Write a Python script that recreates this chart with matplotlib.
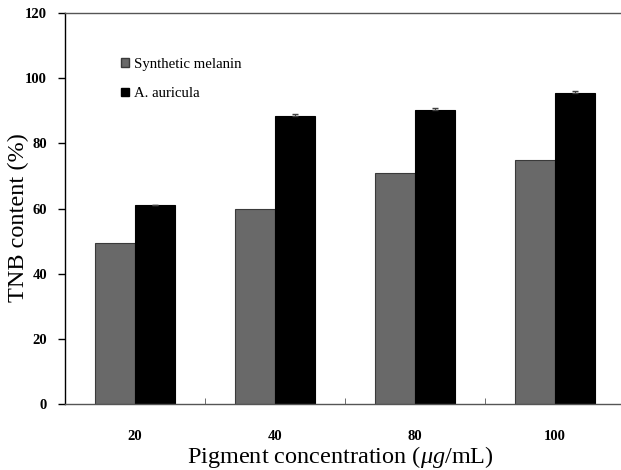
import matplotlib
matplotlib.use("Agg")
import matplotlib.pyplot as plt
import numpy as np
from matplotlib.patches import Patch

categories = ["20", "40", "80", "100"]
synthetic = [49.3, 59.8, 71.0, 74.8]
auricula = [61.1, 88.5, 90.3, 95.3]
auricula_err = [0.0, 0.4, 0.5, 0.9]
yticks = [0, 20, 40, 60, 80, 100, 120]

plt.rcParams['font.family'] = ['Liberation Serif', 'DejaVu Serif']
plt.rcParams['mathtext.fontset'] = 'custom'
plt.rcParams['mathtext.it'] = 'Liberation Serif:italic'
plt.rcParams['mathtext.rm'] = 'Liberation Serif'

fig = plt.figure(figsize=(6.21, 4.70), dpi=100)
ax = fig.add_axes([65/621, 1-404/470, 1-65/621, (404-13)/470])

x = np.arange(len(categories))
w = 0.285
ax.bar(x - w/2, synthetic, w, color='#696969', edgecolor='#3a3a3a', linewidth=0.8, zorder=2)
ax.bar(x + w/2, auricula, w, color='black', edgecolor='black', linewidth=0.8, zorder=2)
ax.errorbar(x + w/2, auricula, yerr=[[0]*len(auricula), auricula_err], fmt='none',
            ecolor='#404040', capsize=2.5, elinewidth=0.8, zorder=3)

ax.set_xlim(-0.5, 3.47)
ax.set_ylim(0, 120)
ax.set_yticks(yticks)
ax.set_yticklabels([str(t) for t in yticks], fontweight='bold', fontsize=10.5)
ax.set_xticks(x)
ax.set_xticklabels(categories, fontweight='bold', fontsize=10.5)
ax.tick_params(axis='x', length=0, pad=19)
ax.set_xticks([0.5, 1.5, 2.5], minor=True)
ax.tick_params(axis='x', which='minor', direction='in', length=4, color='#555555')
ax.tick_params(axis='y', direction='out', length=5, width=1, pad=8)

ax.spines['right'].set_visible(False)
ax.spines['top'].set_color('#555555')
ax.spines['bottom'].set_color('#555555')
ax.spines['left'].set_color('black')
for s in ax.spines.values():
    s.set_linewidth(1.0)

fig.text(18/621, 1-218/470, 'TNB content (%)', fontsize=17.5, rotation=90,
         ha='center', va='center')
fig.text(340/621, 1-457/470, r'Pigment concentration ($\mathit{\mu g}$/mL)', fontsize=17.5,
         ha='center', va='center')

handles = [Patch(facecolor='#696969', edgecolor='#3a3a3a', label='Synthetic melanin'),
           Patch(facecolor='black', edgecolor='black', label='A. auricula')]
ax.legend(handles=handles, loc='upper left', bbox_to_anchor=(0.0905, 0.90), frameon=False,
          fontsize=10.6, handlelength=0.55, handleheight=0.55, handletextpad=0.3, labelspacing=1.1,
          borderaxespad=0)

fig.savefig('out.png', dpi=100)
